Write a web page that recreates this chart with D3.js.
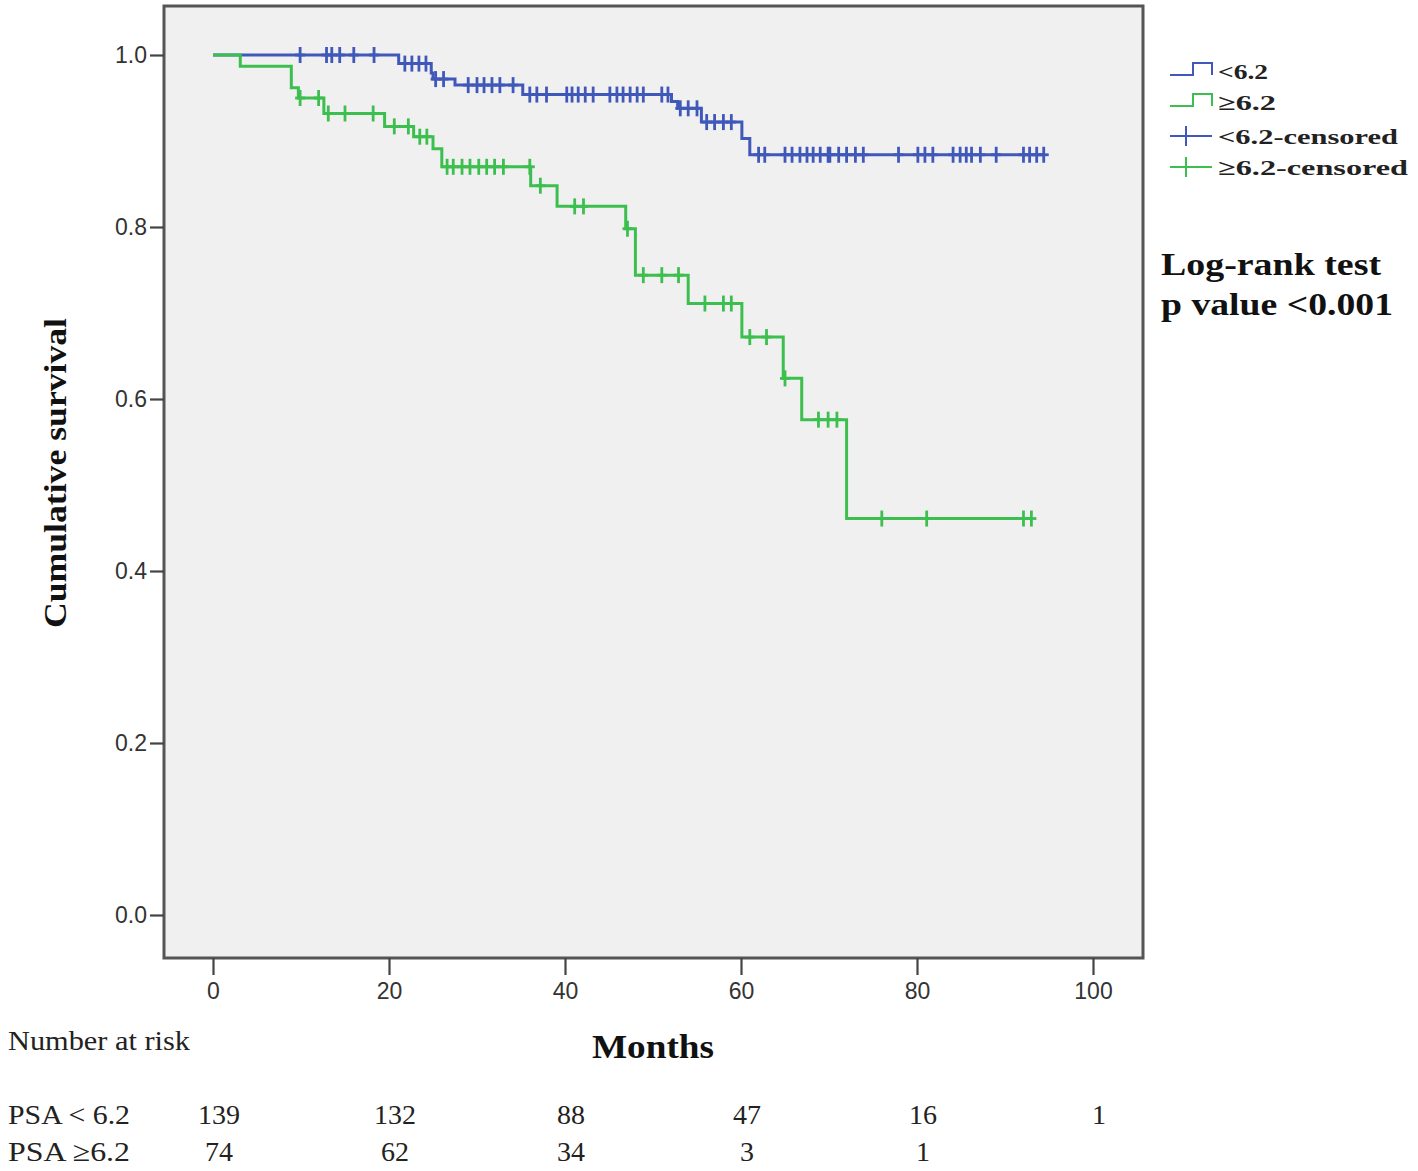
<!DOCTYPE html>
<html>
<head>
<meta charset="utf-8">
<script src="https://cdn.jsdelivr.net/npm/d3@7"></script>
<style>
  html, body { margin: 0; padding: 0; background: #ffffff; }
  svg { display: block; }
</style>
</head>
<body>
<div id="chart"></div>
<script>
// ---------- DATA ----------
// Kaplan-Meier step changes: [time (months), survival after step]
const lowSteps = [[0, 1.0], [21.1, 0.990], [24.8, 0.979], [25.0, 0.972], [27.5, 0.965], [35.2, 0.954],
  [52.1, 0.946], [52.8, 0.938], [55.5, 0.922], [60.1, 0.903], [61.0, 0.884]];
const highSteps = [[0, 1.0], [3.1, 0.987], [8.9, 0.962], [9.7, 0.950], [12.6, 0.932], [19.5, 0.917],
  [22.8, 0.905], [25.0, 0.891], [26.0, 0.870], [36.1, 0.848], [39.1, 0.824], [46.9, 0.798],
  [48.0, 0.744], [54.0, 0.711], [60.1, 0.672], [64.8, 0.624], [66.9, 0.576], [72.0, 0.461]];
// censoring times (months)
const lowCensored = [9.9, 12.9, 13.5, 14.4, 16.0, 18.3,
  21.8, 22.6, 23.4, 24.2, 25.3, 26.2,
  29.0, 30.0, 30.8, 31.7, 32.6, 34.1,
  36.0, 36.8, 37.9, 40.2, 40.8, 41.5, 42.3, 43.2, 45.1, 45.9, 46.6, 47.4, 48.2, 48.9, 51.0, 51.7,
  53.1, 54.0, 55.0, 56.1, 57.0, 58.0, 58.9,
  62.0, 62.7, 65.0, 65.8, 66.7, 67.5, 68.2, 69.0, 69.9, 70.1, 71.1, 72.0, 73.0, 73.9,
  77.9, 80.1, 80.9, 81.8, 84.1, 84.9, 85.6, 86.2, 87.2, 89.0, 92.1, 92.8, 93.6, 94.4];
const highCensored = [9.9, 12.0, 13.1, 15.0, 18.2, 20.6, 22.2, 23.5, 24.3,
  26.6, 27.3, 28.3, 29.2, 30.2, 31.1, 32.0, 33.0, 36.0, 37.2, 41.1, 42.1, 47.1,
  48.9, 51.0, 52.9, 55.9, 58.0, 58.9, 61.0, 62.9, 65.0, 68.8, 69.9, 70.9,
  76.0, 81.1, 92.1, 93.0];
const xTicks = [0, 20, 40, 60, 80, 100];
const yTicks = [0.0, 0.2, 0.4, 0.6, 0.8, 1.0];
const legendLabels = ["<6.2", "≥6.2", "<6.2-censored", "≥6.2-censored"];
const riskTimes = [0, 20, 40, 60, 80, 100];
const riskLow = [139, 132, 88, 47, 16, 1];
const riskHigh = [74, 62, 34, 3, 1];
const riskRowLabels = ["PSA < 6.2", "PSA ≥6.2"];

// ---------- DRAW ----------
const W = 1418, H = 1171;
const blue = "#3f58b9", green = "#3cbf4e";
const serif = "'Liberation Serif', 'DejaVu Serif', serif";
const sans = "'Liberation Sans', Arial, sans-serif";

const svg = d3.select("#chart").append("svg").attr("width", W).attr("height", H);

const x = d3.scaleLinear().domain([0, 100]).range([213, 1093]);
const y = d3.scaleLinear().domain([0, 1]).range([915, 55]);

const frame = { left: 164, top: 6, right: 1143, bottom: 958 };
svg.append("rect")
  .attr("x", frame.left).attr("y", frame.top)
  .attr("width", frame.right - frame.left).attr("height", frame.bottom - frame.top)
  .attr("fill", "#f0f0f0").attr("stroke", "#555").attr("stroke-width", 3);

// axes
const yAxis = svg.append("g").attr("transform", `translate(${frame.left},0)`)
  .call(d3.axisLeft(y).tickValues(yTicks).tickFormat(d3.format(".1f")).tickSize(14).tickPadding(3));
const xAxis = svg.append("g").attr("transform", `translate(0,${frame.bottom})`)
  .call(d3.axisBottom(x).tickValues(xTicks).tickFormat(d3.format("d")).tickSize(17).tickPadding(8));
[yAxis, xAxis].forEach(g => {
  g.select(".domain").remove();
  g.selectAll(".tick line").attr("stroke", "#444").attr("stroke-width", 2.2);
  g.selectAll(".tick text").attr("fill", "#333").style("font-family", sans).style("font-size", "23px");
});

// curves
function stepValue(steps, t) {
  const times = steps.map(d => d[0]);
  const i = d3.bisectRight(times, t) - 1;
  return steps[Math.max(0, i)][1];
}
const line = d3.line().x(d => x(d[0])).y(d => y(d[1])).curve(d3.curveStepAfter);

function drawCurve(steps, censored, color) {
  const end = d3.max(censored);
  const pts = steps.concat([[end, steps[steps.length - 1][1]]]);
  svg.append("path").attr("d", line(pts))
    .attr("fill", "none").attr("stroke", color).attr("stroke-width", 3).attr("stroke-linejoin", "miter");
  const g = svg.append("g").attr("stroke", color).attr("stroke-width", 2.8);
  censored.forEach(t => {
    const cx = x(t), cy = y(stepValue(steps, t));
    g.append("line").attr("x1", cx).attr("x2", cx).attr("y1", cy - 8).attr("y2", cy + 8);
    g.append("line").attr("x1", cx - 5).attr("x2", cx + 5).attr("y1", cy).attr("y2", cy);
  });
}
drawCurve(lowSteps, lowCensored, blue);
drawCurve(highSteps, highCensored, green);

// legend
const legendRows = [71, 102, 136, 167];
const legendColors = [blue, green, blue, green];
const legendWidths = [50, 58, 180, 190];
legendLabels.forEach((lab, i) => {
  const cy = legendRows[i];
  const c = legendColors[i];
  if (i < 2) {
    svg.append("path")
      .attr("d", `M1170,${cy + 4}H1193V${cy - 8}H1212V${cy + 4}`)
      .attr("fill", "none").attr("stroke", c).attr("stroke-width", 2);
  } else {
    svg.append("line").attr("x1", 1170).attr("x2", 1212).attr("y1", cy).attr("y2", cy)
      .attr("stroke", c).attr("stroke-width", 2);
    svg.append("line").attr("x1", 1186).attr("x2", 1186).attr("y1", cy - 10).attr("y2", cy + 10)
      .attr("stroke", c).attr("stroke-width", 2);
  }
  svg.append("text").attr("x", 1218).attr("y", cy + 8)
    .attr("textLength", legendWidths[i]).attr("lengthAdjust", "spacingAndGlyphs")
    .style("font-family", serif).style("font-weight", "bold").style("font-size", "22px")
    .attr("fill", "#222").text(lab);
});

// log-rank annotation
svg.append("text").attr("x", 1161).attr("y", 275)
  .attr("textLength", 220).attr("lengthAdjust", "spacingAndGlyphs")
  .style("font-family", serif).style("font-weight", "bold").style("font-size", "32px")
  .attr("fill", "#111").text("Log-rank test");
svg.append("text").attr("x", 1161).attr("y", 315)
  .attr("textLength", 232).attr("lengthAdjust", "spacingAndGlyphs")
  .style("font-family", serif).style("font-weight", "bold").style("font-size", "32px")
  .attr("fill", "#111").text("p value <0.001");

// axis titles
svg.append("text")
  .attr("transform", "translate(66,473) rotate(-90)")
  .attr("text-anchor", "middle")
  .attr("textLength", 310).attr("lengthAdjust", "spacingAndGlyphs")
  .style("font-family", serif).style("font-weight", "bold").style("font-size", "31px")
  .attr("fill", "#111").text("Cumulative survival");
svg.append("text").attr("x", 653).attr("y", 1058).attr("text-anchor", "middle")
  .attr("textLength", 122).attr("lengthAdjust", "spacingAndGlyphs")
  .style("font-family", serif).style("font-weight", "bold").style("font-size", "33px")
  .attr("fill", "#111").text("Months");

// number at risk table
svg.append("text").attr("x", 8).attr("y", 1050)
  .attr("textLength", 182).attr("lengthAdjust", "spacingAndGlyphs")
  .style("font-family", serif).style("font-size", "28px").attr("fill", "#222").text("Number at risk");
const rowY = [1124, 1161];
[riskLow, riskHigh].forEach((vals, r) => {
  svg.append("text").attr("x", 8).attr("y", rowY[r])
    .attr("textLength", 122).attr("lengthAdjust", "spacingAndGlyphs")
    .style("font-family", serif).style("font-size", "28px").attr("fill", "#222").text(riskRowLabels[r]);
  vals.forEach((v, i) => {
    svg.append("text").attr("x", x(riskTimes[i]) + 6).attr("y", rowY[r]).attr("text-anchor", "middle")
      .style("font-family", serif).style("font-size", "28px").attr("fill", "#222").text(v);
  });
});
</script>
</body>
</html>
